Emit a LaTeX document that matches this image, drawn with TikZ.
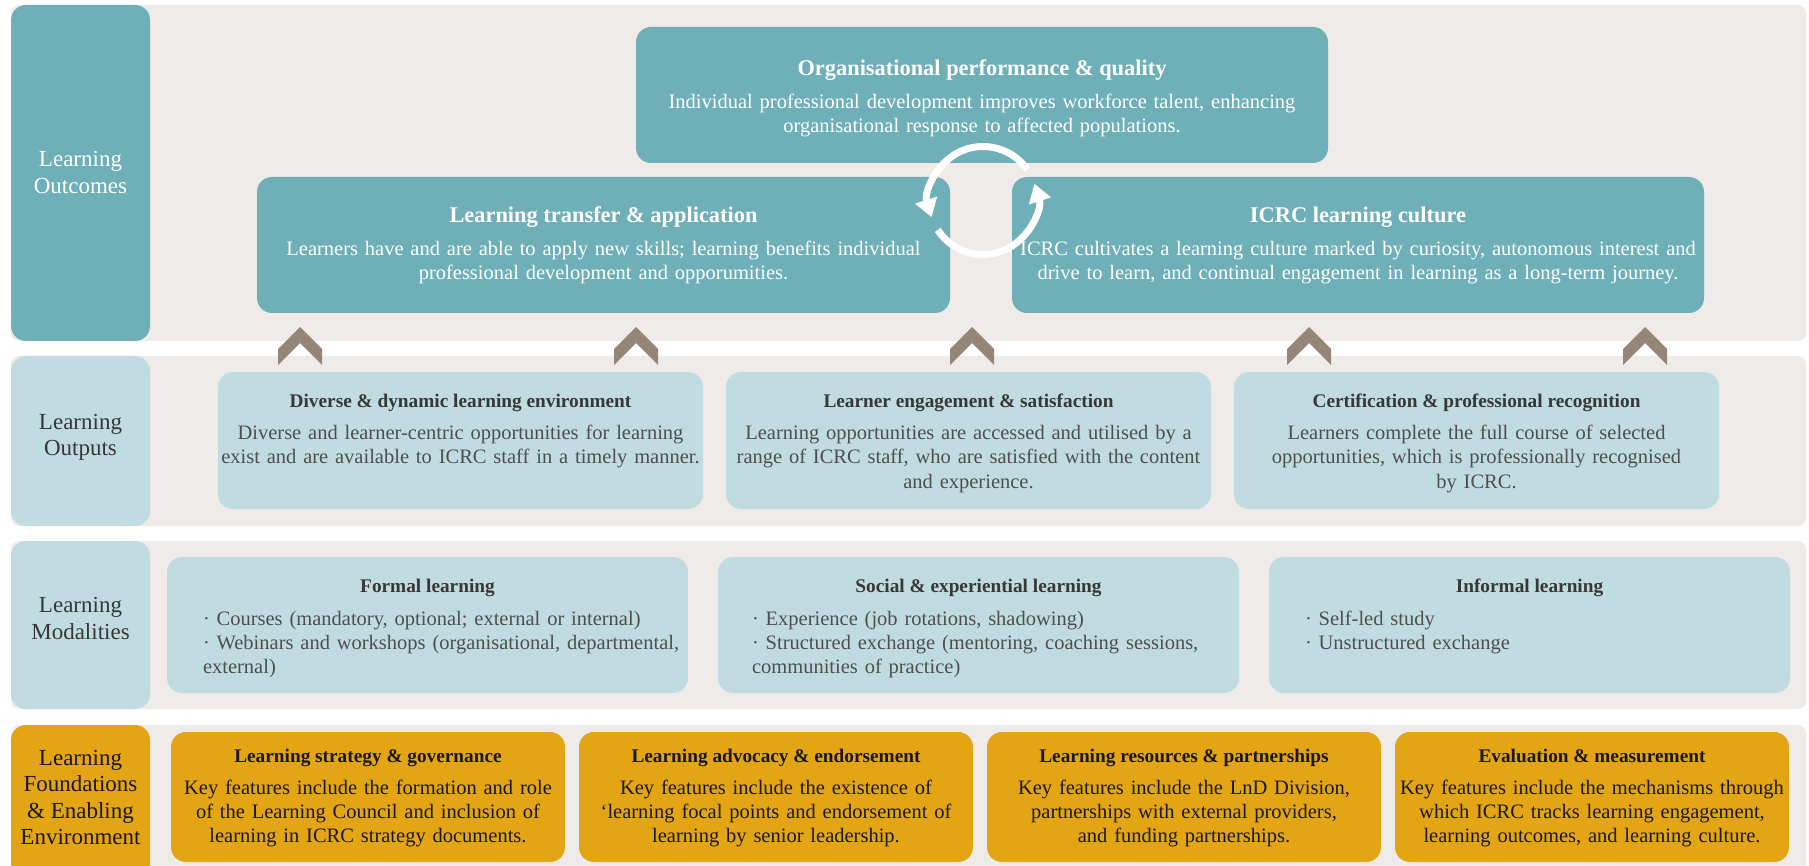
\documentclass[tikz,border=0pt]{standalone}
\usepackage{fontspec}
\setmainfont{Liberation Serif}
\usetikzlibrary{arrows.meta}
\definecolor{bandbg}{RGB}{239,235,232}
\definecolor{deepteal}{RGB}{111,175,184}
\definecolor{paleblue}{RGB}{193,220,224}
\definecolor{gold}{RGB}{227,165,20}
\definecolor{chevron}{RGB}{150,134,120}
\definecolor{ink}{RGB}{55,55,55}
\definecolor{inkgrey}{RGB}{78,78,78}
\definecolor{inkdark}{RGB}{26,22,16}

\begin{document}
\begin{tikzpicture}[x=1pt,y=-1pt,
  band/.style={fill=bandbg,rounded corners=8pt},
  lab/.style={rounded corners=15pt,minimum width=139pt,inner sep=0pt},
  labtxt/.style={align=center,inner sep=0pt,font=\fontsize{23}{26.5}\selectfont},
  card/.style={rounded corners=15pt,inner sep=0pt},
  bigttl/.style={anchor=base,inner sep=0pt,text=white,font=\fontsize{22.4}{26}\selectfont\bfseries},
  bigtxt/.style={anchor=base,inner sep=0pt,text=white,align=center,text width=680pt,font=\fontsize{20.5}{24}\selectfont},
  ttl/.style={anchor=base,inner sep=0pt,font=\fontsize{19.3}{23}\selectfont\bfseries},
  txt/.style={anchor=base,inner sep=0pt,align=center,text width=#1,font=\fontsize{20.5}{24.5}\selectfont},
  modtxt/.style={anchor=base west,inner sep=0pt,align=left,text width=480pt,text=inkgrey,font=\fontsize{20.5}{24}\selectfont},
  cyclearrow/.style={white,line width=7pt,-{Triangle[width=22pt,length=18pt]}}]

\useasboundingbox (0,0) rectangle (1809,866);

% background bands
\foreach \ya/\yb in {5/341,356/526,541/709,725/880}
  \fill[band] (11,\ya) rectangle (1806,\yb);

% row labels
\node[lab,fill=deepteal,minimum height=336pt] (lab-out) at (80.5,173) {};
\node[lab,fill=paleblue,minimum height=170pt] (lab-put) at (80.5,441) {};
\node[lab,fill=paleblue,minimum height=168pt] (lab-mod) at (80.5,625) {};
\node[lab,fill=gold,minimum height=155pt] (lab-fnd) at (80.5,802.5) {};

\node[labtxt,text=white] (lab-out-t) at (80.5,172.5) {Learning\\Outcomes};
\node[labtxt,text=ink] (lab-put-t) at (80.5,437.5) {Learning\\Outputs};
\node[labtxt,text=ink] (lab-mod-t) at (80.5,618.5) {Learning\\Modalities};
\node[labtxt,text=inkdark] (lab-fnd-t) at (80.5,797.5) {Learning\\Foundations\\\& Enabling\\Environment};

% outcomes
\node[card,fill=deepteal,minimum width=692pt,minimum height=136pt] (perf) at (982,95) {};
\node[card,fill=deepteal,minimum width=693pt,minimum height=136pt] (trans) at (603.5,245) {};
\node[card,fill=deepteal,minimum width=692pt,minimum height=136pt] (cult) at (1358,245) {};

\node[bigttl] (perf-t) at ([yshift=-48.5pt]perf.north) {Organisational performance \& quality};
\node[bigtxt] (perf-b) at ([yshift=-81.5pt]perf.north) {Individual professional development improves workforce talent, enhancing\\organisational response to affected populations.};
\node[bigttl] (trans-t) at ([yshift=-45.5pt]trans.north) {Learning transfer \& application};
\node[bigtxt] (trans-b) at ([yshift=-78.5pt]trans.north) {Learners have and are able to apply new skills; learning benefits individual\\professional development and opporumities.};
\node[bigttl] (cult-t) at ([yshift=-45.5pt]cult.north) {ICRC learning culture};
\node[bigtxt] (cult-b) at ([yshift=-78.5pt]cult.north) {ICRC cultivates a learning culture marked by curiosity, autonomous interest and\\drive to learn, and continual engagement in learning as a long-term journey.};

% feedback loop
\coordinate (cyc) at (983,200.5);
\draw[cyclearrow] ([shift={(35:54pt)}]cyc) arc[start angle=35,end angle=198,radius=54pt];
\draw[cyclearrow] ([shift={(213:54pt)}]cyc) arc[start angle=213,end angle=378,radius=54pt];

% outputs
\foreach \nm/\cx in {env/460.5,eng/968.5,cert/1476.5}
  \node[card,fill=paleblue,minimum width=485pt,minimum height=137pt] (\nm) at (\cx,440.5) {};

\node[ttl,text=ink] (env-t) at ([yshift=-35.5pt]env.north) {Diverse \& dynamic learning environment};
\node[txt=484pt,text=inkgrey] (env-b) at ([yshift=-67.5pt]env.north) {Diverse and learner-centric opportunities for learning\\exist and are available to ICRC staff in a timely manner.};
\node[ttl,text=ink] (eng-t) at ([yshift=-35.5pt]eng.north) {Learner engagement \& satisfaction};
\node[txt=484pt,text=inkgrey] (eng-b) at ([yshift=-67.5pt]eng.north) {Learning opportunities are accessed and utilised by a\\range of ICRC staff, who are satisfied with the content\\and experience.};
\node[ttl,text=ink] (cert-t) at ([yshift=-35.5pt]cert.north) {Certification \& professional recognition};
\node[txt=484pt,text=inkgrey] (cert-b) at ([yshift=-67.5pt]cert.north) {Learners complete the full course of selected\\opportunities, which is professionally recognised\\by ICRC.};

% chevrons between outputs and outcomes
\foreach \cx in {300,636,972,1309,1645}
  \fill[chevron] (\cx,327) -- ++(22,22) -- ++(0,16) -- ++(-22,-22) -- ++(-22,22) -- ++(0,-16) -- cycle;

% modalities
\foreach \nm/\cx in {formal/427.5,social/978.5,informal/1529.5}
  \node[card,fill=paleblue,minimum width=521pt,minimum height=136pt] (\nm) at (\cx,625) {};

\node[ttl,text=ink] (formal-t) at ([yshift=-35.5pt]formal.north) {Formal learning};
\node[modtxt] (formal-b) at ([xshift=36pt,yshift=-68.5pt]formal.north west) {· Courses (mandatory, optional; external or internal)\\· Webinars and workshops (organisational, departmental,\\external)};
\node[ttl,text=ink] (social-t) at ([yshift=-35.5pt]social.north) {Social \& experiential learning};
\node[modtxt] (social-b) at ([xshift=34pt,yshift=-68.5pt]social.north west) {· Experience (job rotations, shadowing)\\· Structured exchange (mentoring, coaching sessions,\\communities of practice)};
\node[ttl,text=ink] (informal-t) at ([yshift=-35.5pt]informal.north) {Informal learning};
\node[modtxt] (informal-b) at ([xshift=36pt,yshift=-68.5pt]informal.north west) {· Self-led study\\· Unstructured exchange};

% foundations
\foreach \nm/\cx in {strat/368,advo/776,res/1184,eval/1592}
  \node[card,fill=gold,minimum width=394pt,minimum height=130pt] (\nm) at (\cx,797) {};

\node[ttl,text=inkdark] (strat-t) at ([yshift=-30.5pt]strat.north) {Learning strategy \& governance};
\node[txt=390pt,text=inkdark,font=\fontsize{20.5}{24}\selectfont] (strat-b) at ([yshift=-63pt]strat.north) {Key features include the formation and role\\of the Learning Council and inclusion of\\learning in ICRC strategy documents.};
\node[ttl,text=inkdark] (advo-t) at ([yshift=-30.5pt]advo.north) {Learning advocacy \& endorsement};
\node[txt=390pt,text=inkdark,font=\fontsize{20.5}{24}\selectfont] (advo-b) at ([yshift=-63pt]advo.north) {Key features include the existence of\\‘learning focal points and endorsement of\\learning by senior leadership.};
\node[ttl,text=inkdark] (res-t) at ([yshift=-30.5pt]res.north) {Learning resources \& partnerships};
\node[txt=390pt,text=inkdark,font=\fontsize{20.5}{24}\selectfont] (res-b) at ([yshift=-63pt]res.north) {Key features include the LnD Division,\\partnerships with external providers,\\and funding partnerships.};
\node[ttl,text=inkdark] (eval-t) at ([yshift=-30.5pt]eval.north) {Evaluation \& measurement};
\node[txt=390pt,text=inkdark,font=\fontsize{20.5}{24}\selectfont] (eval-b) at ([yshift=-63pt]eval.north) {Key features include the mechanisms through\\which ICRC tracks learning engagement,\\learning outcomes, and learning culture.};

\end{tikzpicture}
\end{document}
